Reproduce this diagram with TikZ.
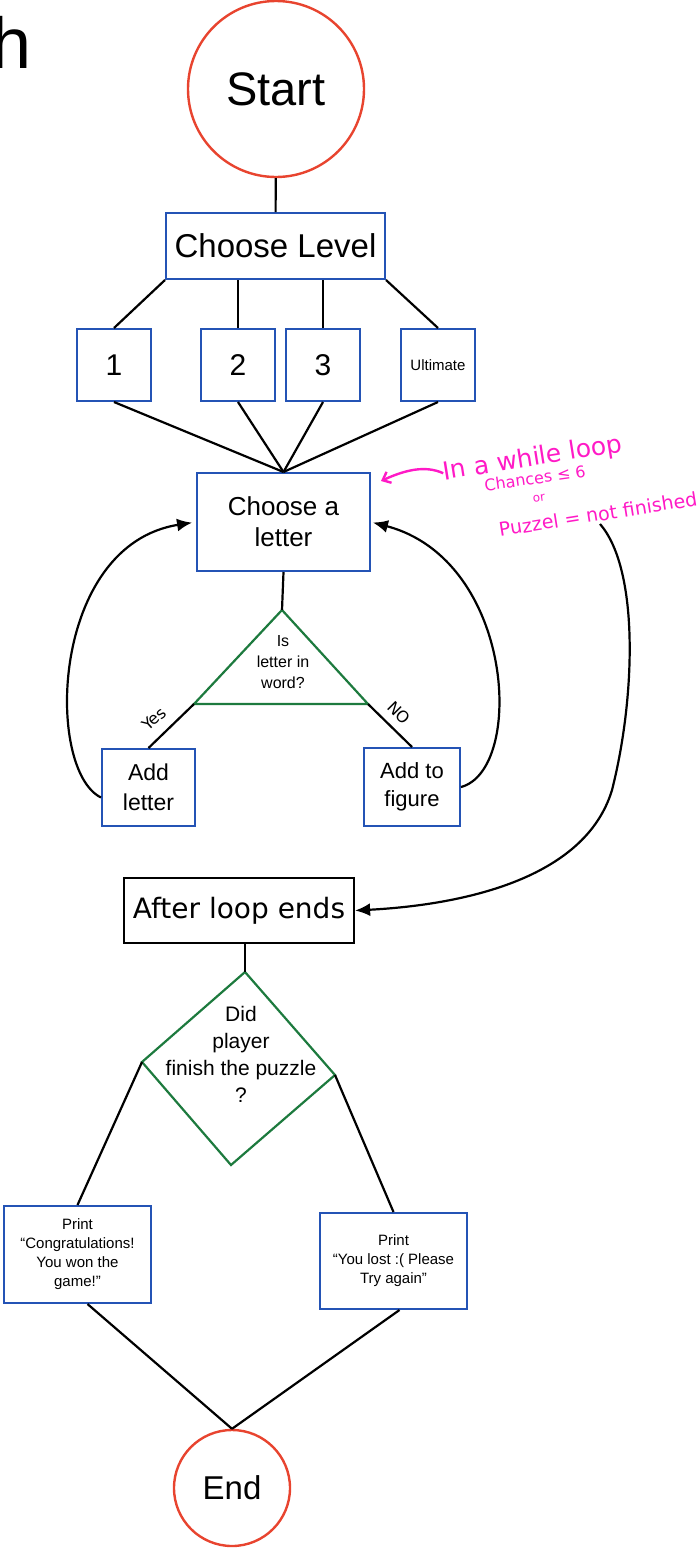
\documentclass[tikz,border=0pt]{standalone}
\usepackage{fontspec}
\setmainfont{Liberation Sans}
\newfontfamily\handfont{DejaVu Sans}
\usetikzlibrary{arrows.meta}

\definecolor{flowred}{HTML}{E8442F}
\definecolor{flowblue}{HTML}{2453B5}
\definecolor{flowgreen}{HTML}{1D7A3E}
\definecolor{notepink}{HTML}{FF1AC6}
\newcommand{\fsz}[2]{\fontsize{#1}{#2}\selectfont}

\begin{document}
\begin{tikzpicture}[x=1pt,y=-1pt,
    flowbox/.style={draw=flowblue, line width=2pt, align=center, inner sep=0pt},
    blackbox/.style={draw=black, line width=2.2pt, align=center, inner sep=0pt},
    startend/.style={circle, draw=flowred, line width=2.4pt, inner sep=0pt},
    flowline/.style={line width=2.2pt},
    flowarrow/.style={line width=2.2pt, -{Latex[length=15pt,width=13pt]}},
    noteline/.style={draw=notepink, line width=2.4pt, -{Straight Barb[length=7pt,width=12pt]}},
    note/.style={text=notepink, inner sep=0pt, font=\handfont}]
  \useasboundingbox (0,0) rectangle (697,1553);

  % cut off title
  \node[anchor=base west, inner sep=0pt, font=\fsz{72}{80}] (title) at (-9,68) {h};

  \node[startend, minimum size=176pt, font=\fsz{47}{56}] (start) at (276,89) {Start};
  \node[flowbox, minimum width=219pt, minimum height=66pt, font=\fsz{33}{40}] (level) at (275.5,246) {Choose Level};

  % levels
  \node[flowbox, minimum width=74pt, minimum height=72pt, font=\fsz{30}{36}] (one) at (114,365) {1};
  \node[flowbox, minimum width=74pt, minimum height=72pt, font=\fsz{30}{36}] (two) at (238,365) {2};
  \node[flowbox, minimum width=74pt, minimum height=72pt, font=\fsz{30}{36}] (three) at (323,365) {3};
  \node[flowbox, minimum width=74pt, minimum height=72pt, font=\fsz{15}{18}] (ult) at (438,365) {Ultimate};

  \node[flowbox, minimum width=173pt, minimum height=98pt, font=\fsz{26}{31}] (letter) at (283.5,522) {Choose a\\letter};

  % question triangle
  \coordinate (qtop) at (282,610);
  \coordinate (qleft) at (194,704);
  \coordinate (qright) at (368,704);
  \draw[draw=flowgreen, line width=2.2pt] (qtop) -- (qright) -- (qleft) -- cycle;
  \node[align=center, inner sep=0pt, font=\fsz{16}{21}] (ask) at (283,662) {Is\\letter in\\word?};

  \node[flowbox, minimum width=93pt, minimum height=77pt, font=\fsz{23}{30}] (addl) at (148.5,787.5) {Add\\letter};
  \node[flowbox, minimum width=96pt, minimum height=78pt, font=\fsz{22}{28}] (addf) at (412,787) {Add to\\figure};

  \node[blackbox, minimum width=230pt, minimum height=65pt, font=\handfont\fsz{28}{34}] (after) at (239,910.5) {After loop ends};

  % end check
  \coordinate (dtop) at (245,972);
  \coordinate (dleft) at (142,1062);
  \coordinate (dright) at (335,1075);
  \coordinate (dbot) at (231,1165);
  \draw[draw=flowgreen, line width=2.2pt] (dtop) -- (dright) -- (dbot) -- (dleft) -- cycle;
  \node[align=center, inner sep=0pt, font=\fsz{21}{27}] (finish) at (241,1054) {Did\\player\\finish the puzzle\\?};

  \node[flowbox, minimum width=147pt, minimum height=97pt, font=\fsz{15}{19}] (won) at (77.5,1254.5) {Print\\“Congratulations!\\You won the\\game!”};
  \node[flowbox, minimum width=147pt, minimum height=96pt, font=\fsz{15}{19}] (lost) at (393.5,1261) {Print\\“You lost :( Please\\Try again”};

  \node[startend, minimum size=116pt, font=\fsz{33}{40}] (end) at (232,1488) {End};

  % connectors
  \draw[flowline] (start) -- (level);
  \draw[flowline] (level.south west) -- (one.north);
  \draw[flowline] (two.north) -- (two.north |- level.south);
  \draw[flowline] (three.north) -- (three.north |- level.south);
  \draw[flowline] (level.south east) -- (ult.north);
  \foreach \lv in {one,two,three,ult}
    \draw[flowline] (\lv.south) -- (letter.north);
  \draw[flowline] (letter.south) -- (qtop);
  \draw[flowline] (qleft) -- (addl.north);
  \draw[flowline] (qright) -- (addf.north);
  \node[font=\handfont\fsz{16}{18}, rotate=42, inner sep=0pt] (yes) at (154,719) {Yes};
  \node[font=\handfont\fsz{16}{18}, rotate=-45, inner sep=0pt] (no) at (399,713) {NO};

  % loop back
  \draw[flowarrow, shorten >=4pt] ([yshift=-10pt]addl.west) .. controls (45,770) and (50,545) .. (letter.west);
  \draw[flowarrow, shorten >=2pt] (addf.east) .. controls (525,770) and (515,560) .. (letter.east);

  % while note
  \node[note, rotate=9, font=\handfont\fsz{25}{30}] (while) at (533,459) {In a while loop};
  \node[note, rotate=8, font=\handfont\fsz{16}{20}] (chances) at (535,478) {Chances ≤ 6};
  \node[note, rotate=8, font=\handfont\fsz{12}{15}] (or) at (539,498) {or};
  \node[note, rotate=9, font=\handfont\fsz{19}{25}] (puzzle) at (598,514) {Puzzel = not finished};
  \coordinate (pinktip) at (381,481);
  \draw[noteline] (while.west) .. controls (425,465) and (405,470) .. (pinktip);
  \coordinate (loopstart) at (600,524);
  \draw[flowarrow] (loopstart) .. controls (640,570) and (635,700) .. (612,790)
    .. controls (585,880) and (460,905) .. (after.east);

  \draw[flowline] (dtop) -- (dtop |- after.south);
  \draw[flowline] (dleft) -- (won.north);
  \draw[flowline] (dright) -- (lost.north);
  \draw[flowline] ([xshift=10pt]won.south) -- (end.north);
  \draw[flowline] ([xshift=6pt]lost.south) -- (end.north);
\end{tikzpicture}
\end{document}
